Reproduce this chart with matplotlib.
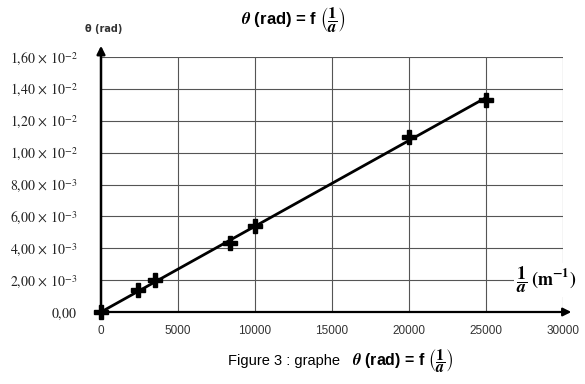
import numpy as np
import matplotlib
matplotlib.use("Agg")
import matplotlib.pyplot as plt

# data
inv_a = [0, 2400, 3500, 8400, 10000, 20000, 25000]        # 1/a (m^-1)
theta = [0.0, 1.4e-3, 2.0e-3, 4.3e-3, 5.4e-3, 1.10e-2, 1.33e-2]  # rad
x_ticks = [0, 5000, 10000, 15000, 20000, 25000, 30000]
y_ticks = [0.0, 0.002, 0.004, 0.006, 0.008, 0.010, 0.012, 0.014, 0.016]
y_tick_labels = [r"$0{,}00$", r"$2{,}00\,\times\,10^{-3}$", r"$4{,}00\,\times\,10^{-3}$",
                 r"$6{,}00\,\times\,10^{-3}$", r"$8{,}00\,\times\,10^{-3}$",
                 r"$1{,}00\,\times\,10^{-2}$", r"$1{,}20\,\times\,10^{-2}$",
                 r"$1{,}40\,\times\,10^{-2}$", r"$1{,}60\,\times\,10^{-2}$"]

plt.rcParams['mathtext.fontset'] = 'stix'

fig = plt.figure(figsize=(5.85, 3.84), dpi=100)
ax = fig.add_axes([101/585, 1 - 312/384, 462/585, 255/384])
ax.set_xlim(0, 30000)
ax.set_ylim(0, 0.016)

# grid
for xv in x_ticks[1:]:
    ax.axvline(xv, color='#555555', lw=0.8, zorder=1)
for yv in y_ticks[1:]:
    ax.axhline(yv, color='#555555', lw=0.8, zorder=1)

for s in ax.spines.values():
    s.set_visible(False)

# axes arrows
ax.annotate('', xy=(1.024, 0), xytext=(0, 0), xycoords='axes fraction',
            arrowprops=dict(arrowstyle='-|>', color='black', lw=1.6, mutation_scale=12),
            annotation_clip=False)
ax.annotate('', xy=(0, 1.055), xytext=(0, 0), xycoords='axes fraction',
            arrowprops=dict(arrowstyle='-|>', color='black', lw=1.8, mutation_scale=12),
            annotation_clip=False)

# fitted line through origin
x = np.array(inv_a, dtype=float)
y = np.array(theta)
k = np.sum(x * y) / np.sum(x * x)
xl = np.array([0, max(inv_a)])
ax.plot(xl, k * xl, color='black', lw=2, zorder=3)
ax.plot(inv_a, theta, linestyle='none', marker='P', markersize=10,
        color='black', zorder=4, clip_on=False)

ax.set_xticks(x_ticks)
ax.set_xticklabels([str(v) for v in x_ticks], fontsize=8.5, color='#333333',
                   family='Liberation Sans')
ax.set_yticks(y_ticks)
ax.set_yticklabels(y_tick_labels, fontsize=10, color='#222222')
ax.tick_params(length=0)
ax.tick_params(axis='x', pad=9)
ax.tick_params(axis='y', pad=17)

# labels
fig.text(104/585, 1 - 29/384, "θ (rad)", fontsize=7, fontweight='bold',
         ha='center', va='center', color='#333333')
fig.text(546/585, 1 - 280/384,
         r"$\dfrac{\mathbf{1}}{\mathbfit{a}}\;\mathbf{(m^{-1})}$",
         fontsize=13, ha='center', va='center',
         bbox=dict(facecolor='white', edgecolor='none', pad=1))

title = r"$\mathbfit{\theta}$ (rad) = f $\left(\dfrac{\mathbf{1}}{\mathbfit{a}}\right)$"
# title
fig.text(293/585, 1 - 20/384, title,
         fontsize=12, fontweight='bold', ha='center', va='center',
         family='Liberation Sans')

# caption
fig.text(348/585, 1 - 361/384, "Figure 3 : graphe  ",
         fontsize=10.5, ha='right', va='center', family='Liberation Sans')
fig.text(352/585, 1 - 361/384, title,
         fontsize=11.5, fontweight='bold', ha='left', va='center',
         family='Liberation Sans')

fig.savefig("out.png", dpi=100)
